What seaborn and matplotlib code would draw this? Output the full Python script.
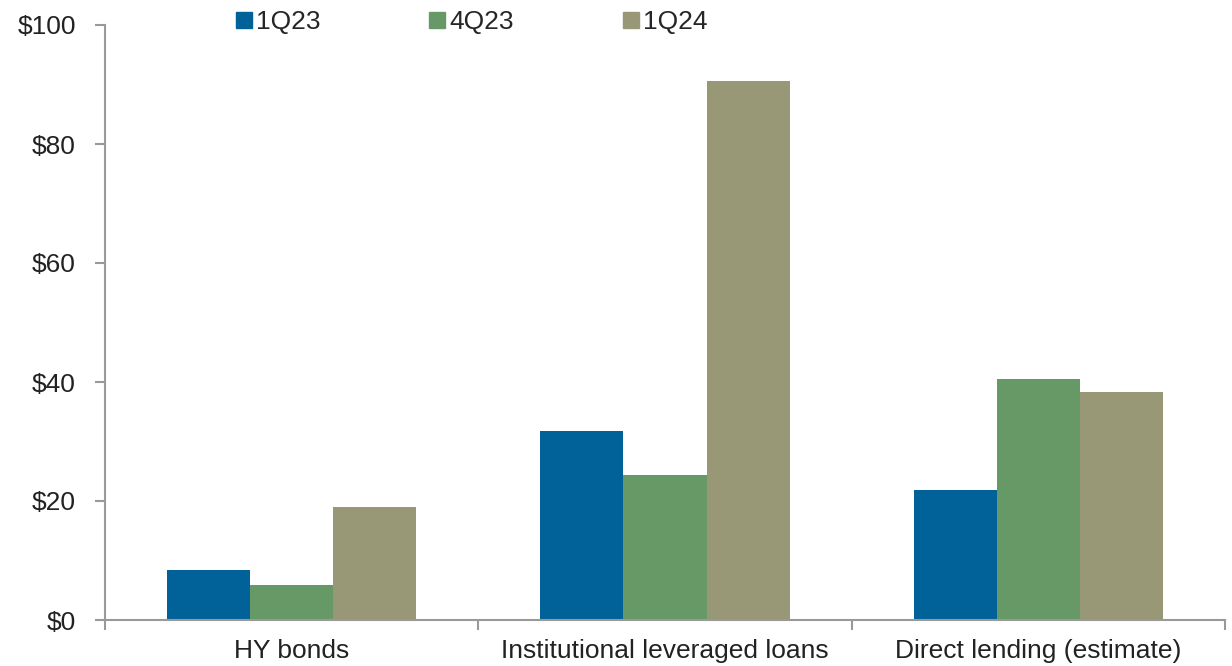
import matplotlib
matplotlib.use("Agg")
import matplotlib.pyplot as plt
import seaborn as sns
import pandas as pd
from matplotlib.ticker import FuncFormatter, FixedLocator
from matplotlib.lines import Line2D

categories = ["HY bonds", "Institutional leveraged loans", "Direct lending (estimate)"]
quarters = ["1Q23", "4Q23", "1Q24"]
values_1q23 = [8.4, 31.8, 21.8]
values_4q23 = [5.9, 24.4, 40.5]
values_1q24 = [19.0, 90.6, 38.3]
colors = ["#006298", "#669966", "#989877"]

rows = []
for q, vals in zip(quarters, [values_1q23, values_4q23, values_1q24]):
    for c, v in zip(categories, vals):
        rows.append({"category": c, "quarter": q, "value": v})
df = pd.DataFrame(rows)

sns.set_theme(style="white")
plt.rcParams["font.family"] = ["Liberation Sans", "DejaVu Sans"]

fig = plt.figure(figsize=(12.32, 6.66), dpi=100)
ax = fig.add_axes([105 / 1232, 1 - 620 / 666, 1120 / 1232, 595 / 666])

sns.barplot(data=df, x="category", y="value", hue="quarter",
            palette=colors, order=categories, hue_order=quarters,
            width=0.667, saturation=1, linewidth=0, ax=ax, legend=False)

ax.set_ylim(0, 100)
ax.set_xlim(-0.5, 2.5)
ax.set_yticks([0, 20, 40, 60, 80, 100])
ax.yaxis.set_major_formatter(FuncFormatter(lambda v, p: f"${v:.0f}"))
ax.set_xlabel("")
ax.set_ylabel("")

spine_color = "#999999"
text_color = "#222222"
for s in ["top", "right"]:
    ax.spines[s].set_visible(False)
for s in ["left", "bottom"]:
    ax.spines[s].set_color(spine_color)
    ax.spines[s].set_linewidth(1.5)

ax.tick_params(axis="y", which="major", direction="out", length=7, width=1.5,
               color=spine_color, labelsize=19, labelcolor=text_color, pad=14, left=True)
ax.tick_params(axis="x", which="major", length=0, labelsize=19, labelcolor=text_color, pad=14)
ax.xaxis.set_minor_locator(FixedLocator([-0.5, 0.5, 1.5, 2.5]))
ax.tick_params(axis="x", which="minor", direction="out", length=7, width=1.5,
               color=spine_color, bottom=True)

handles = [Line2D([0], [0], marker="s", linestyle="none", markersize=11,
                  markerfacecolor=c, markeredgecolor=c) for c in colors]
fig.legend(handles, quarters, loc="center", bbox_to_anchor=(471 / 1232, 1 - 22 / 666),
           ncol=3, frameon=False, fontsize=19, handletextpad=0.1,
           columnspacing=4.1, handlelength=0.7)

fig.savefig("out.png", dpi=100, facecolor="white")
